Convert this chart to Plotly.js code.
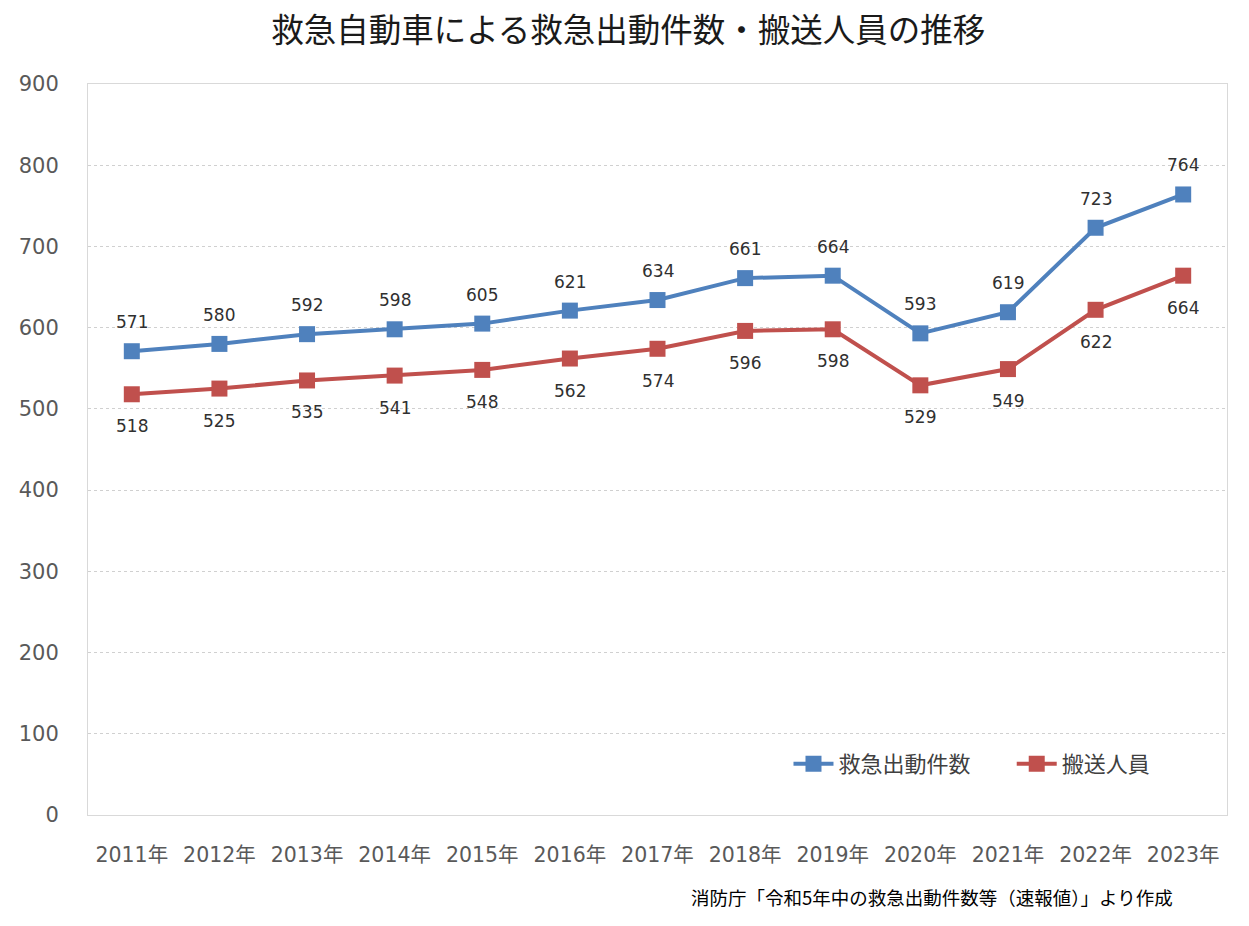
<!DOCTYPE html>
<html>
<head>
<meta charset="utf-8">
<script src="https://cdn.plot.ly/plotly-3.0.1.min.js"></script>
<style>html,body{margin:0;padding:0;background:#fff;}#chart{width:1249px;height:926px;}</style>
</head>
<body>
<div id="chart"></div>
<script>
const years = ["2011年","2012年","2013年","2014年","2015年","2016年","2017年","2018年","2019年","2020年","2021年","2022年","2023年"];
const dispatches = [571,580,592,598,605,621,634,661,664,593,619,723,764];
const transported = [518,525,535,541,548,562,574,596,598,529,549,622,664];
const seriesNames = ["救急出動件数","搬送人員"];
const titleText = "救急自動車による救急出動件数・搬送人員の推移";
const sourceText = "消防庁「令和5年中の救急出動件数等（速報値）」より作成";

const cjk = "'Noto Sans CJK JP', sans-serif";
const mixed = "'DejaVu Sans', 'Noto Sans CJK JP', sans-serif";
const labelFont = {family: mixed, size: 17, color: '#303030'};

const traces = [
  {
    x: years, y: dispatches, name: seriesNames[0], type: 'scatter', mode: 'lines+markers',
    line: {color: '#4F81BD', width: 4},
    marker: {symbol: 'square', size: 16, color: '#4F81BD'},
    cliponaxis: false, hoverinfo: 'x+y', legend: 'legend'
  },
  {
    x: years, y: transported, name: seriesNames[1], type: 'scatter', mode: 'lines+markers',
    line: {color: '#C0504D', width: 4},
    marker: {symbol: 'square', size: 16, color: '#C0504D'},
    cliponaxis: false, hoverinfo: 'x+y', legend: 'legend2'
  }
];

const annotations = [];
years.forEach((yr, i) => {
  annotations.push({x: yr, y: dispatches[i], xref: 'x', yref: 'y', text: String(dispatches[i]),
    showarrow: false, yshift: 29, font: labelFont, xanchor: 'center', yanchor: 'middle'});
  annotations.push({x: yr, y: transported[i], xref: 'x', yref: 'y', text: String(transported[i]),
    showarrow: false, yshift: -32, font: labelFont, xanchor: 'center', yanchor: 'middle'});
});
annotations.push({text: sourceText, xref: 'paper', yref: 'paper', x: 0.954, y: -0.112, xanchor: 'right', yanchor: 'middle',
  showarrow: false, font: {family: cjk, size: 18.5, color: '#000000'}});

const legendBase = {
  orientation: 'h', y: 0.07, xanchor: 'left', yanchor: 'middle',
  font: {family: cjk, size: 22, color: '#404040'}, bgcolor: 'rgba(0,0,0,0)',
  itemwidth: 40
};

const layout = {
  width: 1249, height: 926,
  margin: {l: 88, r: 22, t: 84, b: 111, autoexpand: false},
  paper_bgcolor: '#ffffff', plot_bgcolor: '#ffffff',
  font: {family: mixed, color: '#595959'},
  title: {text: titleText, x: 0.503, xanchor: 'center', y: 0.967, yanchor: 'middle',
          font: {family: cjk, size: 32.5, color: '#1a1a1a', weight: 'normal'}},
  xaxis: {
    type: 'category', range: [-0.5, 12.5], showgrid: false, zeroline: false,
    showline: true, mirror: true, linecolor: '#d9d9d9', linewidth: 1, automargin: false,
    ticks: '', tickangle: 0, tickfont: {family: mixed, size: 20.5, color: '#595959'}, ticklabelstandoff: 21
  },
  yaxis: {
    range: [0, 900], dtick: 100, showgrid: true, gridcolor: '#d0d0d0', griddash: 'dot', gridwidth: 1,
    zeroline: false, showline: true, mirror: true, linecolor: '#d9d9d9', linewidth: 1, automargin: false,
    ticks: '', tickfont: {family: mixed, size: 21, color: '#595959'}, ticklabelstandoff: 24
  },
  legend: Object.assign({}, legendBase, {x: 0.615}),
  legend2: Object.assign({}, legendBase, {x: 0.811}),
  showlegend: true,
  annotations: annotations
};

Plotly.newPlot('chart', traces, layout, {displayModeBar: false, responsive: false});
</script>
</body>
</html>
